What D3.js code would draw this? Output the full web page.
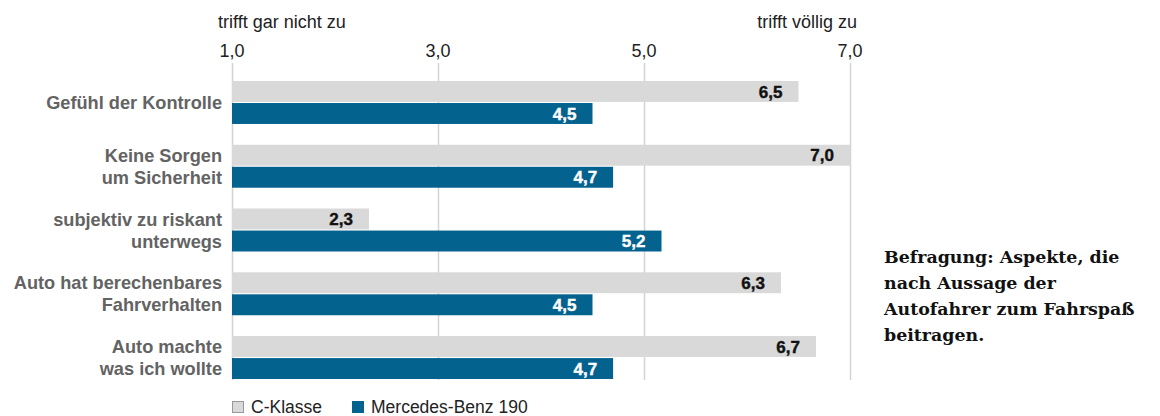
<!DOCTYPE html>
<html>
<head>
<meta charset="utf-8">
<script src="https://cdn.jsdelivr.net/npm/d3@7"></script>
<style>
  body { margin: 0; background: #fff; }
  svg { display: block; }
</style>
</head>
<body>
<svg width="1160" height="416"></svg>
<script>
var categories = [
    ["Gefühl der Kontrolle"],
    ["Keine Sorgen", "um Sicherheit"],
    ["subjektiv zu riskant", "unterwegs"],
    ["Auto hat berechenbares", "Fahrverhalten"],
    ["Auto machte", "was ich wollte"]
];
var seriesNames = ["C-Klasse", "Mercedes-Benz 190"];
var cKlasse = [6.5, 7.0, 2.33, 6.33, 6.67];
var benz190 = [4.5, 4.7, 5.17, 4.5, 4.7];
var tickValues = [1, 3, 5, 7];
var scaleLabels = ["trifft gar nicht zu", "trifft völlig zu"];
var note = ["Befragung: Aspekte, die", "nach Aussage der", "Autofahrer zum Fahrspaß", "beitragen."];

var colors = ["#d9d9d9", "#04628f"];
var labelColors = ["#111", "#fff"];
var sans = "'Liberation Sans', Arial, sans-serif";

var svg = d3.select("svg");
var fmt = function(v) { return d3.format(".1f")(v).replace(".", ","); };

var x = d3.scaleLinear()
    .domain([1, 7])
    .range([232, 850]);

var y = d3.scaleBand()
    .domain(d3.range(categories.length))
    .range([70.6, 389.4])
    .paddingInner(0.326)
    .paddingOuter(0.163);

var ySub = d3.scaleBand()
    .domain(d3.range(seriesNames.length))
    .range([0, y.bandwidth()])
    .paddingInner(0.05);

// gridlines
svg.append("g")
    .selectAll("line")
    .data(tickValues)
    .enter()
    .append("line")
    .attr("x1", function(d) { return Math.round(x(d)) + 0.5; })
    .attr("x2", function(d) { return Math.round(x(d)) + 0.5; })
    .attr("y1", 63)
    .attr("y2", 380)
    .style("stroke", "#d4d4d4")
    .style("stroke-width", 1.5);

// tick labels
svg.append("g")
    .selectAll("text")
    .data(tickValues)
    .enter()
    .append("text")
    .attr("x", function(d) { return x(d); })
    .attr("y", 57)
    .attr("text-anchor", "middle")
    .style("font", "18px " + sans)
    .style("fill", "#222")
    .text(fmt);

svg.append("text")
    .attr("x", 218)
    .attr("y", 28)
    .style("font", "18px " + sans)
    .style("fill", "#222")
    .text(scaleLabels[0]);

svg.append("text")
    .attr("x", 857)
    .attr("y", 28)
    .attr("text-anchor", "end")
    .style("font", "18px " + sans)
    .style("fill", "#222")
    .text(scaleLabels[1]);

// bars
var rows = categories.map(function(c, i) {
    return { i: i, label: c, values: [cKlasse[i], benz190[i]] };
});

var group = svg.append("g")
    .selectAll("g")
    .data(rows)
    .enter()
    .append("g")
    .attr("transform", function(d) { return "translate(0," + y(d.i) + ")"; });

group.selectAll("rect")
    .data(function(d) { return d.values.map(function(v, s) { return { s: s, v: v }; }); })
    .enter()
    .append("rect")
    .attr("x", x(1))
    .attr("y", function(d) { return ySub(d.s); })
    .attr("width", function(d) { return x(d.v) - x(1); })
    .attr("height", ySub.bandwidth())
    .attr("fill", function(d) { return colors[d.s]; });

group.selectAll("text.val")
    .data(function(d) { return d.values.map(function(v, s) { return { s: s, v: v }; }); })
    .enter()
    .append("text")
    .attr("class", "val")
    .attr("x", function(d) { return x(d.v) - 16; })
    .attr("y", function(d) { return ySub(d.s) + ySub.bandwidth() / 2; })
    .attr("dy", "0.36em")
    .attr("text-anchor", "end")
    .style("font", "bold 17px " + sans)
    .style("fill", function(d) { return labelColors[d.s]; })
    .style("stroke", function(d) { return labelColors[d.s]; })
    .style("stroke-width", 0.4)
    .text(function(d) { return fmt(d.v); });

// category labels
group.append("text")
    .attr("x", 222)
    .attr("text-anchor", "end")
    .style("font", "bold 18.2px " + sans)
    .style("fill", "#636363")
    .each(function(d) {
        var t = d3.select(this);
        var n = d.label.length;
        d.label.forEach(function(line, k) {
            t.append("tspan")
                .attr("x", 222)
                .attr("y", y.bandwidth() / 2 + (k - (n - 1) / 2) * 22)
                .attr("dy", "0.36em")
                .text(line);
        });
    });

// legend
var legendX = [232, 352];
var legend = svg.append("g")
    .selectAll("g")
    .data(seriesNames)
    .enter()
    .append("g")
    .attr("transform", function(d, i) { return "translate(" + legendX[i] + ",401)"; });

legend.append("rect")
    .attr("x", 0.5)
    .attr("y", 0.5)
    .attr("width", 11)
    .attr("height", 11)
    .attr("fill", function(d, i) { return colors[i]; })
    .style("stroke", function(d, i) { return i === 0 ? "#999" : colors[i]; })
    .style("stroke-width", 1);

legend.append("text")
    .attr("x", 19)
    .attr("y", 11.5)
    .style("font", "17.5px " + sans)
    .style("fill", "#222")
    .text(function(d) { return d; });

// note on the right
svg.append("g")
    .selectAll("text")
    .data(note)
    .enter()
    .append("text")
    .attr("x", 884)
    .attr("y", function(d, i) { return 263 + i * 26; })
    .style("font", "bold 17.4px 'DejaVu Serif', 'Liberation Serif', serif")
    .style("fill", "#111")
    .text(function(d) { return d; });
</script>
</body>
</html>
